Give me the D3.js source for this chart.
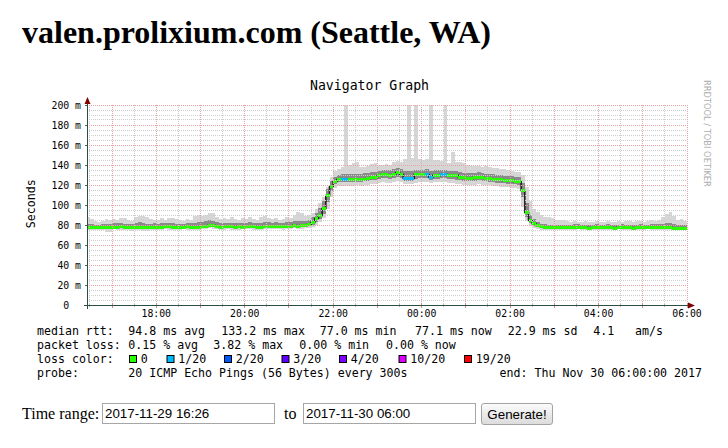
<!DOCTYPE html>
<html>
<head>
<meta charset="utf-8">
<title>valen.prolixium.com (Seattle, WA)</title>
<script src="https://cdn.jsdelivr.net/npm/d3@7/dist/d3.min.js"></script>
<style>
  html, body { margin:0; padding:0; background:#fff; }
  body { width:728px; height:448px; position:relative; overflow:hidden; }
  svg { position:absolute; left:0; top:0; }
  .tr { position:absolute; top:403px; width:173px; height:21px; box-sizing:border-box; margin:0;
        border:1px solid #a6a6a6; padding:0 2px; font:13.333px "Liberation Sans", Arial, sans-serif;
        color:#000; background:#fff; outline:none; }
  #gen { position:absolute; left:481px; top:403px; width:72px; height:22px; box-sizing:border-box; margin:0; padding:0;
        border:1px solid #a3a3a3; border-radius:3px; background:linear-gradient(#fbfbfb,#dcdcdc);
        font:13.333px "Liberation Sans", Arial, sans-serif; color:#000; }
</style>
</head>
<body>
<svg id="page" width="728" height="448"></svg>
<input class="tr" id="fromBox" style="left:102px" type="text">
<input class="tr" id="toBox" style="left:303px" type="text">
<button id="gen" type="button">Generate!</button>
<script>
// ---------------- DATA ----------------
const pageTitle = "valen.prolixium.com (Seattle, WA)";
const graphTitle = "Navigator Graph";
const yAxisTitle = "Seconds";
const watermark = "RRDTOOL / TOBI OETIKER";
const viewStart = "2017-11-29 16:26";
const viewEnd = "2017-11-30 06:00";
const firstStep = "2017-11-29 16:25";
const stepMinutes = 5;

// median rtt per 5-minute step (ms)
const median = [
  78.2, 78.0, 77.6, 77.6, 77.8, 77.8, 78.0, 78.4, 78.4, 78.6,
  78.0, 77.8, 77.8, 78.2, 78.4, 78.0, 77.6, 78.2, 78.4, 78.0,
  78.2, 78.6, 78.8, 78.4, 78.2, 78.0, 78.4, 78.6, 78.2, 78.0,
  78.2, 78.6, 79.2, 80.0, 79.6, 78.8, 78.4, 78.6, 79.0, 78.6,
  78.4, 78.6, 78.4, 78.6, 79.0, 78.8, 78.4, 78.2, 78.6, 78.8,
  79.0, 79.2, 78.8, 78.6, 79.0, 79.2, 79.6, 79.4, 79.6, 80.0,
  81.0, 83.3, 86.7, 90.0, 96.7, 110.0, 119.0, 124.3, 125.7, 126.0,
  126.0, 125.8, 126.0, 126.2, 126.0, 126.4, 127.0, 127.8, 128.4, 130.0,
  131.0, 130.6, 130.0, 131.2, 133.2, 131.0, 127.4, 127.4, 127.4, 130.6,
  131.0, 131.0, 131.2, 127.7, 130.0, 130.4, 131.0, 131.0, 130.2, 129.8,
  129.6, 128.4, 127.6, 127.2, 127.0, 127.6, 128.3, 127.8, 127.2, 126.7,
  126.4, 126.0, 125.7, 125.4, 125.0, 124.8, 124.4, 124.0, 115.0, 93.0,
  85.0, 82.3, 80.0, 78.6, 78.2, 77.8, 77.6, 77.8, 78.0, 77.8,
  77.6, 77.6, 77.8, 78.0, 77.8, 77.6, 77.4, 77.6, 77.8, 77.6,
  77.6, 77.8, 77.6, 77.4, 77.6, 77.8, 77.6, 77.6, 77.4, 77.6,
  77.8, 77.6, 77.6, 77.8, 78.0, 77.8, 77.6, 77.6, 77.8, 77.4,
  77.2, 77.2, 77.1
];
// lost pings (of 20) per step
const lossCount = [
  0,0,0,0,0,0,0,0,0,0, 0,0,0,0,0,0,0,0,0,0, 0,0,0,0,0,0,0,0,0,0,
  0,0,0,0,0,0,0,0,0,0, 0,0,0,0,0,0,0,0,0,0, 0,0,0,0,0,0,0,0,0,0,
  0,0,0,0,0,0,0,0,0,1, 1,0,0,0,0,0,0,0,0,0, 0,0,0,0,0,0,1,1,1,0,
  0,0,1,1,0,0,1,1,0,0, 0,0,0,0,0,0,0,0,0,0, 0,0,0,0,0,0,0,0,0,0,
  0,0,0,0,0,0,0,0,0,0, 0,0,0,0,0,0,0,0,0,0, 0,0,0,0,0,0,0,0,0,0,
  0,0,0,0,0,0,0,0,0,0, 0,0,0
];
// slowest ping per step (ms)
const pingMax = [
  88, 86, 84, 83, 84, 86, 85, 86, 85, 87,
  87, 85, 84, 88, 89, 89, 88, 86, 85, 85,
  87, 85, 87, 87, 86, 85, 84, 86, 85, 89,
  90, 89, 90, 92, 92, 88, 86, 87, 86, 88,
  86, 85, 87, 86, 88, 86, 85, 88, 89, 87,
  86, 87, 85, 86, 88, 87, 90, 93, 92, 89,
  90, 92, 96, 102, 108, 118, 128, 134, 136, 138,
  250, 140, 142, 143, 138, 138, 139, 141, 142, 140,
  140, 141, 140, 143, 144, 143, 146, 250, 147, 250,
  146, 145, 146, 250, 145, 145, 144, 250, 142, 153,
  143, 143, 142, 140, 139, 139, 139, 138, 139, 138,
  137, 137, 136, 136, 135, 134, 133, 133, 130, 118,
  104, 96, 93, 90, 88, 88, 87, 85, 85, 85,
  84, 83, 84, 83, 83, 84, 83, 83, 84, 83,
  83, 84, 83, 83, 84, 83, 84, 84, 83, 84,
  84, 83, 84, 85, 84, 85, 88, 91, 93, 89,
  85, 86, 84
];
// fastest ping per step (ms)
const pingMin = [
  75, 75, 75, 75, 75, 73, 73, 76, 75, 75,
  75, 75, 74, 75, 75, 74, 74, 75, 75, 75,
  75, 76, 75, 75, 75, 75, 76, 75, 75, 75,
  75, 76, 76, 77, 76, 76, 75, 75, 76, 75,
  75, 75, 76, 76, 76, 75, 75, 75, 76, 76,
  76, 76, 76, 75, 76, 76, 77, 76, 76, 77,
  77, 78, 80, 83, 87, 96, 108, 117, 119, 119,
  119, 119, 119, 120, 119, 120, 120, 121, 121, 122,
  123, 122, 122, 123, 124, 123, 121, 121, 121, 122,
  123, 123, 123, 122, 123, 123, 123, 123, 122, 122,
  121, 121, 120, 120, 120, 120, 121, 120, 120, 120,
  119, 119, 118, 118, 118, 117, 117, 116, 98, 84,
  79, 77, 76, 75, 75, 75, 75, 75, 75, 75,
  75, 75, 75, 76, 75, 75, 75, 75, 75, 75,
  75, 75, 75, 75, 76, 75, 75, 75, 75, 75,
  75, 75, 76, 75, 75, 75, 75, 75, 75, 75,
  75, 75, 75
];
// dense core of the ping spread (ms)
const innerHi = [
  81, 81, 80, 80, 81, 81, 81, 82, 82, 82,
  81, 81, 81, 82, 83, 82, 81, 81, 82, 81,
  82, 82, 82, 82, 81, 81, 81, 82, 82, 82,
  83, 83, 84, 85, 84, 83, 82, 82, 82, 82,
  82, 82, 82, 82, 83, 82, 82, 82, 83, 83,
  82, 83, 82, 82, 83, 83, 84, 84, 84, 84,
  85, 88, 92, 97, 104, 116, 124, 128, 130, 131,
  131, 131, 131, 131, 131, 132, 132, 133, 133, 134,
  135, 135, 135, 136, 137, 136, 134, 134, 134, 135,
  135, 135, 136, 134, 135, 135, 135, 135, 134, 134,
  134, 133, 132, 132, 132, 132, 133, 132, 131, 131,
  131, 130, 130, 129, 129, 129, 128, 128, 122, 102,
  90, 86, 83, 81, 81, 80, 80, 80, 80, 80,
  80, 80, 81, 81, 80, 80, 80, 80, 81, 80,
  80, 81, 80, 80, 80, 81, 80, 80, 80, 80,
  81, 80, 80, 81, 81, 81, 81, 82, 82, 81,
  80, 80, 80
];
const innerLo = [
  77, 77, 76, 76, 76, 76, 76, 77, 77, 77,
  77, 76, 76, 77, 77, 76, 76, 77, 77, 77,
  77, 77, 77, 77, 77, 77, 77, 77, 77, 77,
  77, 77, 78, 78, 78, 77, 77, 77, 77, 77,
  77, 77, 77, 77, 77, 77, 77, 77, 77, 77,
  77, 78, 77, 77, 77, 78, 78, 78, 78, 78,
  79, 80, 83, 86, 91, 103, 114, 121, 123, 123,
  123, 123, 123, 123, 123, 124, 124, 125, 125, 126,
  127, 127, 126, 127, 128, 127, 124, 124, 124, 126,
  127, 127, 127, 125, 126, 126, 127, 127, 126, 126,
  125, 125, 124, 124, 124, 124, 125, 124, 124, 123,
  123, 122, 122, 122, 121, 121, 121, 120, 108, 88,
  82, 79, 78, 77, 76, 76, 76, 76, 76, 76,
  76, 76, 76, 76, 76, 76, 76, 76, 76, 76,
  76, 76, 76, 76, 76, 76, 76, 76, 76, 76,
  76, 76, 76, 76, 76, 76, 76, 76, 76, 76,
  76, 76, 76
];

const yTickValues = [0, 20, 40, 60, 80, 100, 120, 140, 160, 180, 200];
const yTickLabels = ["0", "20 m", "40 m", "60 m", "80 m", "100 m", "120 m", "140 m", "160 m", "180 m", "200 m"];
const xTickTimes = ["2017-11-29 18:00", "2017-11-29 20:00", "2017-11-29 22:00", "2017-11-30 00:00",
                    "2017-11-30 02:00", "2017-11-30 04:00", "2017-11-30 06:00"];
const xTickLabels = ["18:00", "20:00", "22:00", "00:00", "02:00", "04:00", "06:00"];

const lossLabels = ["0", "1/20", "2/20", "3/20", "4/20", "10/20", "19/20"];
const lossColors = ["#26ff00", "#00b8ff", "#0059ff", "#5e00ff", "#7e00ff", "#dd00ff", "#ff0000"];

const legendRtt = ["median rtt:", "94.8 ms avg", "133.2 ms max", "77.0 ms min", "77.1 ms now", "22.9 ms sd", "4.1", "am/s"];
const legendLoss = ["packet loss:", "0.15 % avg", "3.82 % max", "0.00 % min", "0.00 % now"];
const legendProbe = ["probe:", "20 ICMP Echo Pings (56 Bytes) every 300s"];
const legendEnd = "end: Thu Nov 30 06:00:00 2017";

const formLabel = "Time range:";
const formTo = "to";
const rangeFrom = "2017-11-29 16:26";
const rangeTo = "2017-11-30 06:00";

// ---------------- DRAWING ----------------
const parse = d3.timeParse("%Y-%m-%d %H:%M");
const svg = d3.select("#page");
const mono = "'DejaVu Sans Mono', monospace";
const serif = "'Liberation Serif', 'Times New Roman', serif";

const x = d3.scaleTime().domain([parse(viewStart), parse(viewEnd)]).range([87, 687]);
const y = d3.scaleLinear().domain([0, 200]).range([305, 105]);
const cr = v => Math.floor(v) + 0.5;

// heading
svg.append("text").attr("x", 22).attr("y", 43)
  .attr("font-family", serif).attr("font-weight", "bold").attr("font-size", 32)
  .attr("fill", "#000").text(pageTitle);

// graph title
svg.append("text").attr("x", 369.5).attr("y", 90).attr("text-anchor", "middle")
  .attr("font-family", mono).attr("font-size", 13.2).attr("fill", "#000").text(graphTitle);

// y axis title
svg.append("text").attr("transform", "translate(35,203.7) rotate(-90)").attr("text-anchor", "middle")
  .attr("font-family", mono).attr("font-size", 11.6).attr("fill", "#000").text(yAxisTitle);

// watermark
svg.append("text").attr("transform", "translate(704,80) rotate(90)")
  .attr("font-family", "'DejaVu Sans', sans-serif").attr("font-size", 8.3)
  .attr("fill", "#adadad").text(watermark);

// clip
svg.append("defs").append("clipPath").attr("id", "plotclip")
  .append("rect").attr("x", 87).attr("y", 105).attr("width", 600).attr("height", 200);

const t0 = parse(firstStep);
const steps = median.map((m, i) => ({
  a: d3.timeMinute.offset(t0, i * stepMinutes),
  b: d3.timeMinute.offset(t0, (i + 1) * stepMinutes),
  m, loss: lossCount[i], max: pingMax[i], min: pingMin[i], hi: innerHi[i], lo: innerLo[i]
}));

const plot = svg.append("g").attr("clip-path", "url(#plotclip)");

plot.append("g").selectAll("rect").data(steps).join("rect")
  .attr("x", d => x(d.a)).attr("width", d => x(d.b) - x(d.a))
  .attr("y", d => y(d.max)).attr("height", d => y(d.min) - y(d.max))
  .attr("fill", "#d6d6d6").attr("shape-rendering", "crispEdges");

plot.append("g").selectAll("rect").data(steps).join("rect")
  .attr("x", d => x(d.a)).attr("width", d => x(d.b) - x(d.a))
  .attr("y", d => y(d.hi)).attr("height", d => y(d.lo) - y(d.hi))
  .attr("fill", "#8a8a8a").attr("shape-rendering", "crispEdges");

// grid
const grid = svg.append("g");
const minorX = x.ticks(d3.timeMinute.every(30)).filter(t => t.getMinutes() !== 0);
const majorX = x.ticks(d3.timeHour.every(1));
const minorY = d3.range(0, 201, 5).filter(v => v % 20 !== 0);
const majorY = yTickValues.filter(v => v > 0);
const gridMinor = "#cdcdcd", gridMajor = "#e8a2a2";

grid.selectAll(".vmin").data(minorX).join("line")
  .attr("x1", d => cr(x(d))).attr("x2", d => cr(x(d))).attr("y1", 105).attr("y2", 305)
  .attr("stroke", gridMinor).attr("stroke-dasharray", "1,1");
grid.selectAll(".hmin").data(minorY).join("line")
  .attr("x1", 87).attr("x2", 687).attr("y1", d => cr(y(d))).attr("y2", d => cr(y(d)))
  .attr("stroke", gridMinor).attr("stroke-dasharray", "1,1");
grid.selectAll(".vmaj").data(majorX).join("line")
  .attr("x1", d => cr(x(d))).attr("x2", d => cr(x(d))).attr("y1", 105).attr("y2", 305)
  .attr("stroke", gridMajor).attr("stroke-dasharray", "1,1");
grid.selectAll(".hmaj").data(majorY).join("line")
  .attr("x1", 87).attr("x2", 687).attr("y1", d => cr(y(d))).attr("y2", d => cr(y(d)))
  .attr("stroke", gridMajor).attr("stroke-dasharray", "1,1");

// small solid ticks at the frame edges
grid.selectAll(".vtk").data(minorX).join("line")
  .attr("x1", d => cr(x(d))).attr("x2", d => cr(x(d))).attr("y1", 304).attr("y2", 307).attr("stroke", "#b0b0b0");
grid.selectAll(".vtk2").data(majorX).join("line")
  .attr("x1", d => cr(x(d))).attr("x2", d => cr(x(d))).attr("y1", 303).attr("y2", 308).attr("stroke", "#d88a8a");
grid.selectAll(".htk").data(majorY).join("line")
  .attr("x1", 85).attr("x2", 87).attr("y1", d => cr(y(d))).attr("y2", d => cr(y(d))).attr("stroke", "#606060");

// median: dark step line + loss colored segments
const stepPts = steps.map(d => [x(d.a), Math.round(y(d.m)) + 0.5]);
stepPts.push([x(steps[steps.length - 1].b), Math.round(y(steps[steps.length - 1].m)) + 0.5]);
plot.append("path").attr("d", d3.line().curve(d3.curveStepAfter)(stepPts))
  .attr("fill", "none").attr("stroke", "#202020").attr("stroke-width", 1.6);
const lossIndex = n => n === 0 ? 0 : n === 1 ? 1 : n === 2 ? 2 : n === 3 ? 3 : n <= 9 ? 4 : n <= 18 ? 5 : 6;
plot.append("g").selectAll("line").data(steps).join("line")
  .attr("x1", d => x(d.a)).attr("x2", d => x(d.b))
  .attr("y1", d => Math.round(y(d.m)) + 0.5).attr("y2", d => Math.round(y(d.m)) + 0.5)
  .attr("stroke", d => lossColors[lossIndex(d.loss)]).attr("stroke-width", 3)
  .attr("shape-rendering", "crispEdges");

// axes
const axisCol = "#2c4d43", arrowCol = "#7f0000";
svg.append("line").attr("x1", 84).attr("x2", 691).attr("y1", 305.5).attr("y2", 305.5).attr("stroke", axisCol);
svg.append("line").attr("x1", 87.5).attr("x2", 87.5).attr("y1", 309).attr("y2", 101).attr("stroke", axisCol);
svg.append("path").attr("d", "M688,302.5 L695,305.5 L688,308.5 Z").attr("fill", arrowCol);
svg.append("path").attr("d", "M84.5,104 L87.5,97 L90.5,104 Z").attr("fill", arrowCol);

// y tick labels
svg.append("g").selectAll("text").data(yTickValues).join("text")
  .attr("x", (d, i) => yTickLabels[i].length === 1 ? 81 - 2 * 5.9 : 81)
  .attr("y", d => y(d) + 3.6).attr("text-anchor", "end")
  .attr("font-family", mono).attr("font-size", 9.8).attr("fill", "#000")
  .text((d, i) => yTickLabels[i]);

// x tick labels
svg.append("g").selectAll("text").data(xTickTimes).join("text")
  .attr("x", d => x(parse(d))).attr("y", 317).attr("text-anchor", "middle")
  .attr("font-family", mono).attr("font-size", 9.8).attr("fill", "#000")
  .text((d, i) => xTickLabels[i]);

// legend
const lg = svg.append("g").attr("font-family", mono).attr("font-size", 11.6).attr("fill", "#000");
const rttX = [37, 128.3, 221.3, 319.7, 415, 507.7, 593.3, 635];
lg.selectAll(".r").data(legendRtt).join("text").attr("x", (d, i) => rttX[i]).attr("y", 334.5).text(d => d);
const lossX = [37, 128.3, 213.3, 299.3, 386];
lg.selectAll(".l").data(legendLoss).join("text").attr("x", (d, i) => lossX[i]).attr("y", 348.8).text(d => d);
lg.append("text").attr("x", 37).attr("y", 363).text("loss color:");
const boxX = [129, 166.5, 224, 281.5, 339, 398.5, 464];
lg.selectAll(".b").data(lossColors).join("rect")
  .attr("x", (d, i) => boxX[i] + 0.5).attr("y", 355.5).attr("width", 7).attr("height", 7)
  .attr("fill", d => d).attr("stroke", "#000").attr("stroke-width", 1);
lg.selectAll(".bl").data(lossLabels).join("text")
  .attr("x", (d, i) => boxX[i] + 11.8).attr("y", 363).text(d => d);
lg.selectAll(".p").data(legendProbe).join("text").attr("x", (d, i) => [37, 128.3][i]).attr("y", 377.2).text(d => d);
lg.append("text").attr("x", 702).attr("y", 377.2).attr("text-anchor", "end").text(legendEnd);

// form
svg.append("text").attr("x", 22).attr("y", 418.5).attr("font-family", serif).attr("font-size", 16).text(formLabel);
svg.append("text").attr("x", 284).attr("y", 418.5).attr("font-family", serif).attr("font-size", 16).text(formTo);
d3.select("#fromBox").property("value", rangeFrom);
d3.select("#toBox").property("value", rangeTo);
</script>
</body>
</html>
